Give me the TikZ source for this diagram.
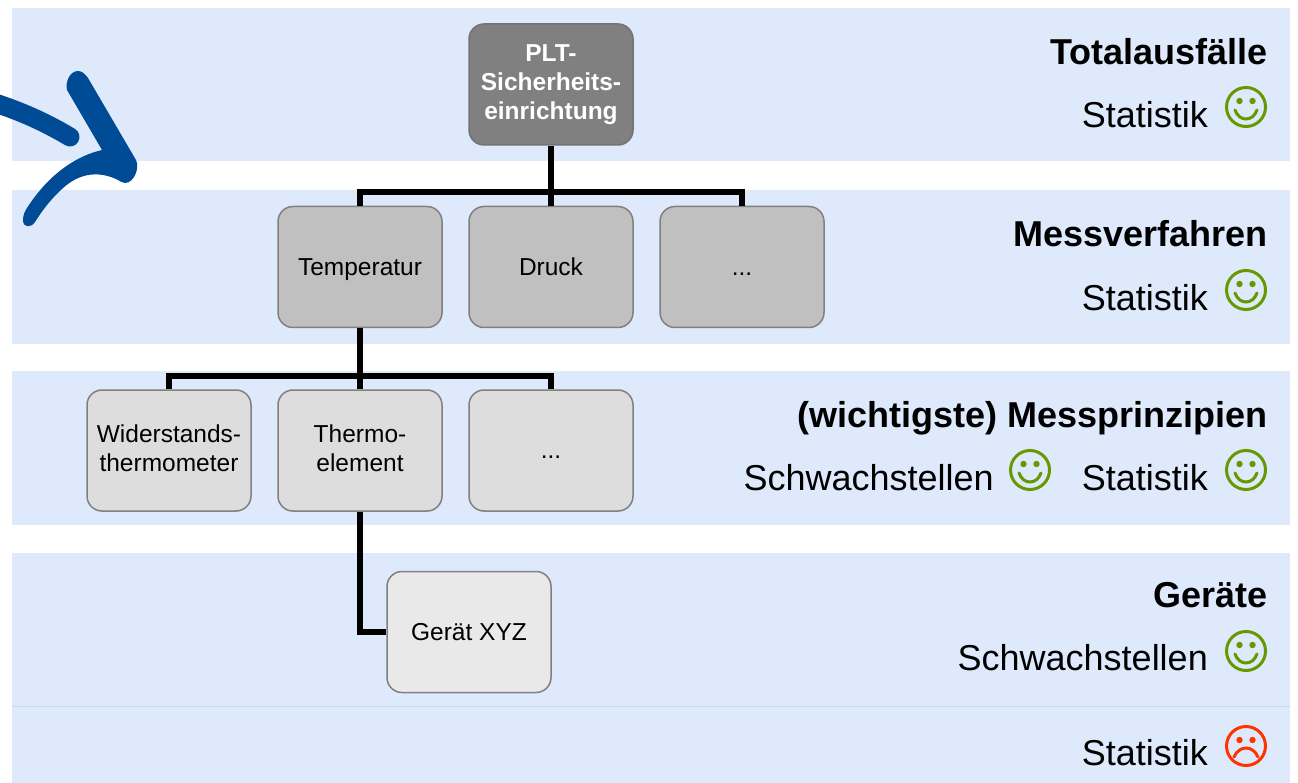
\documentclass[tikz,border=0pt]{standalone}
\usepackage{fontspec}
\setmainfont{Liberation Sans}
\definecolor{band}{RGB}{222,234,251}
\definecolor{bandline}{RGB}{197,217,241}
\definecolor{arrowblue}{RGB}{0,75,150}
\definecolor{smgreen}{RGB}{102,153,0}
\definecolor{smred}{RGB}{255,51,0}
\definecolor{boxA}{RGB}{128,128,128}
\definecolor{boxB}{RGB}{192,192,192}
\definecolor{boxC}{RGB}{221,221,221}
\definecolor{boxD}{RGB}{233,233,233}
\definecolor{boxborder}{RGB}{128,128,128}
\newcommand\myTopStrut{\rule{0pt}{0.905em}}
\newcommand\myBotStrut{\rule[-0.212em]{0pt}{0.212em}}
\begin{document}
\begin{tikzpicture}[x=1pt,y=-1pt,
  treebox/.style={rounded corners=15pt, draw=boxborder, line width=1.5pt,
    minimum width=164pt, minimum height=121pt, align=center, inner sep=0pt,
    font=\fontsize{24.5}{29}\selectfont,
    execute at begin node=\myTopStrut, execute at end node=\myBotStrut},
  conn/.style={line width=6pt, line join=miter, black},
  title/.style={anchor=base east, inner sep=0pt, font=\fontsize{36}{42}\selectfont\bfseries},
  lbl/.style={anchor=base east, inner sep=0pt, font=\fontsize{36}{42}\selectfont},
  happy/.pic={
    \draw[smgreen, line width=3pt] (0,0) circle[radius=19.5];
    \fill[smgreen] (-6.5,-6) circle[radius=3.2] (6.5,-6) circle[radius=3.2];
    \draw[smgreen, line width=3pt, line cap=round] (-11,3) .. controls (-7,15) and (7,15) .. (11,3);
  },
  sad/.pic={
    \draw[smred, line width=3pt] (0,0) circle[radius=19.5];
    \fill[smred] (-6.5,-6) circle[radius=3.2] (6.5,-6) circle[radius=3.2];
    \draw[smred, line width=3pt, line cap=round] (-12,11) .. controls (-7,-1) and (7,-1) .. (12,11);
  }]
\useasboundingbox (0,0) rectangle (1298,783);
% bands
\fill[band] (12,8) rectangle (1290,161);
\fill[band] (12,190) rectangle (1290,344);
\fill[band] (12,371) rectangle (1290,525);
\fill[band] (12,553) rectangle (1290,783);
\draw[bandline, line width=1pt] (12,706) -- (1290,706);
% swoosh arrow
\draw[arrowblue, line width=19pt, line cap=round] (-8,102) .. controls (20,111) and (45,122) .. (70,137);
\fill[arrowblue] (67,90)
  .. controls (65,82) and (70,71) .. (78,71)
  .. controls (82,71) and (85,74) .. (88,78)
  -- (136,160)
  .. controls (140,168) and (134,183) .. (125,183)
  .. controls (122,183) and (120,181) .. (118,180)
  .. controls (100,171) and (80,172) .. (62,189)
  .. controls (50,200) and (42,211) .. (35,222)
  .. controls (31,228) and (23,228) .. (23,220)
  .. controls (23,215) and (25,211) .. (27,208)
  .. controls (43,183) and (68,158) .. (102,150)
  -- cycle;
% boxes
\node[treebox, fill=boxA, draw=boxA!90!black, text=white, font=\fontsize{24.5}{29}\selectfont\bfseries] (plt) at (551,84.5) {PLT-\\Sicherheits-\\einrichtung};
\node[treebox, fill=boxB] (temp) at (360,267) {Temperatur};
\node[treebox, fill=boxB] (druck) at (551,267) {Druck};
\node[treebox, fill=boxB] (dots2) at (742,267) {...};
\node[treebox, fill=boxC] (wid) at (169,450.5) {Widerstands-\\thermometer};
\node[treebox, fill=boxC] (thermo) at (360,450.5) {Thermo-\\element};
\node[treebox, fill=boxC] (dots3) at (551,450.5) {...};
\node[treebox, fill=boxD] (geraet) at (469,632) {Gerät XYZ};
% connectors
\coordinate (bar1) at (551,192);
\coordinate (bar2) at (360,376);
\draw[conn] (temp.north) |- (bar1) -| (dots2.north);
\draw[conn] (plt.south) -- (druck.north);
\draw[conn] (wid.north) |- (bar2) -| (dots3.north);
\draw[conn] (temp.south) -- (thermo.north);
\draw[conn] (thermo.south) |- (geraet.west);
% right-hand labels
\node[title] (t1) at (1268,65) {Totalausfälle};
\node[lbl] (s1) at (1208,128) {Statistik};
\pic at (1246,107) {happy};
\node[title] (t2) at (1268,247) {Messverfahren};
\node[lbl] (s2) at (1208,311) {Statistik};
\pic at (1246,290) {happy};
\node[title] (t3) at (1268,427) {(wichtigste) Messprinzipien};
\node[lbl] (w3) at (994,490) {Schwachstellen};
\pic at (1030,470) {happy};
\node[lbl] (s3) at (1208,490) {Statistik};
\pic at (1246,470) {happy};
\node[title] (t4) at (1268,607) {Geräte};
\node[lbl] (w4) at (1208,670) {Schwachstellen};
\pic at (1246,651) {happy};
\node[lbl] (s5) at (1208,765) {Statistik};
\pic at (1246,746) {sad};
\end{tikzpicture}
\end{document}
